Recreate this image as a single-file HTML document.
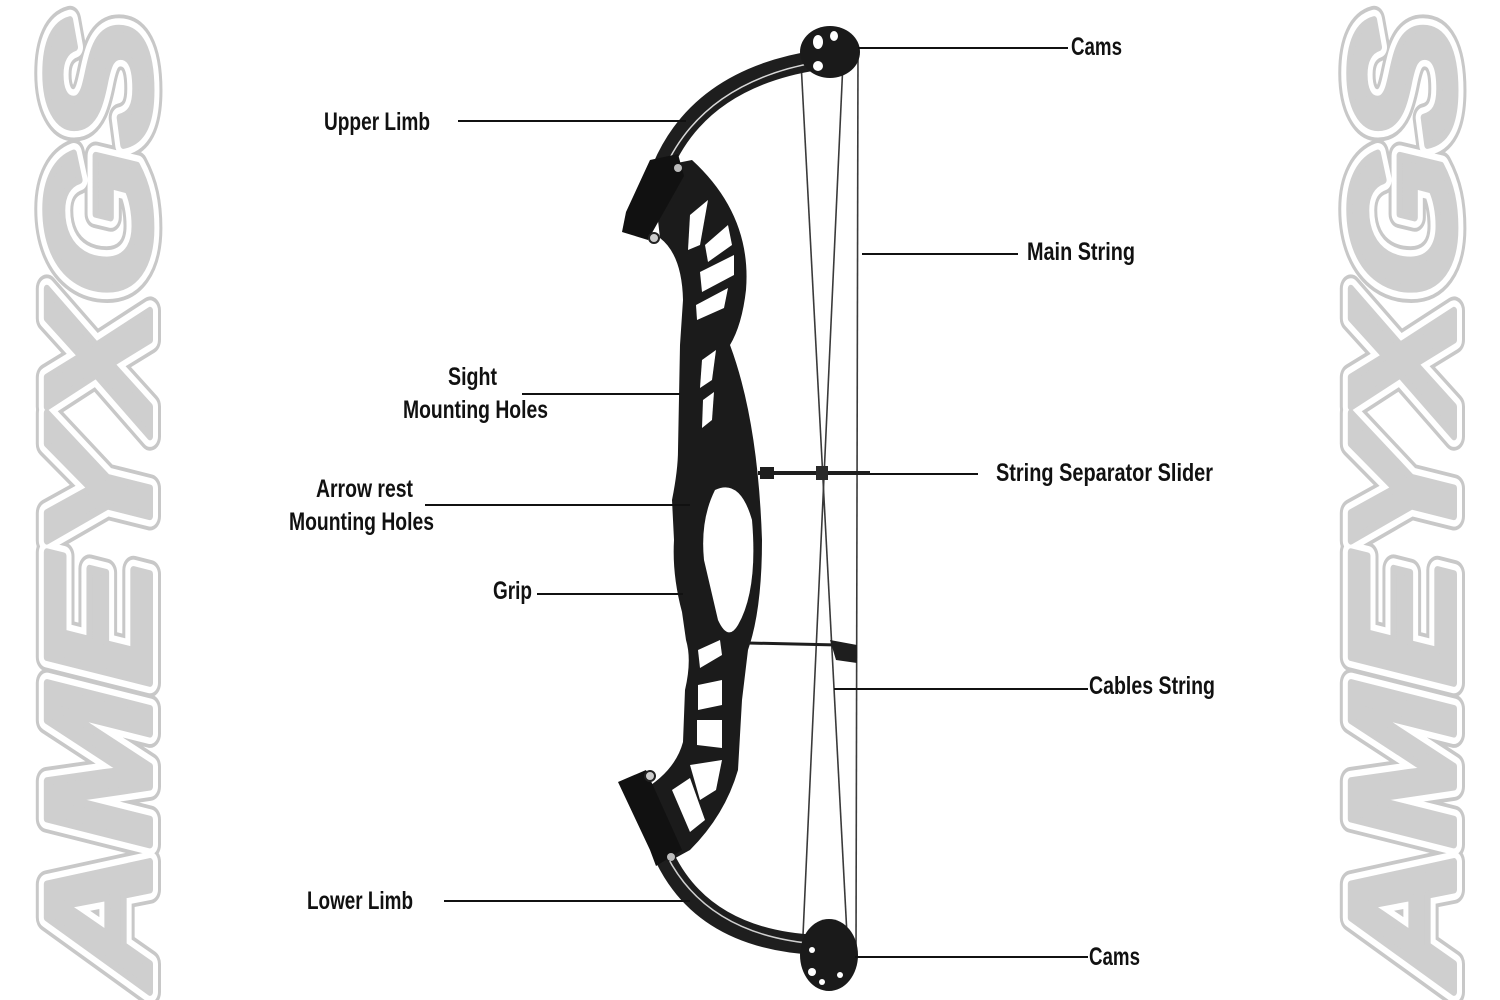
<!DOCTYPE html>
<html><head><meta charset="utf-8"><style>
html,body{margin:0;padding:0;background:#fff;width:1500px;height:1000px;overflow:hidden}
svg{display:block}
.lbl{font-family:"Liberation Sans Narrow","Liberation Sans",sans-serif;font-size:25px;fill:#111;font-weight:bold}
.wm{font-family:"Liberation Sans",sans-serif;font-weight:bold;font-style:italic;font-size:150px}
</style></head><body>
<svg width="1500" height="1000" viewBox="0 0 1500 1000" xmlns="http://www.w3.org/2000/svg">
<!-- watermarks -->
<g class="wm">
 <text transform="translate(150,988) rotate(-90)" textLength="970" lengthAdjust="spacingAndGlyphs" fill="none" stroke="#c8c8c8" stroke-width="22" stroke-linejoin="round">AMEYXGS</text>
 <text transform="translate(150,988) rotate(-90)" textLength="970" lengthAdjust="spacingAndGlyphs" fill="none" stroke="#fff" stroke-width="16" stroke-linejoin="round">AMEYXGS</text>
 <text transform="translate(150,988) rotate(-90)" textLength="970" lengthAdjust="spacingAndGlyphs" fill="#cfcfcf" stroke="#cfcfcf" stroke-width="6" stroke-linejoin="round">AMEYXGS</text>
 <text transform="translate(1454,988) rotate(-90)" textLength="970" lengthAdjust="spacingAndGlyphs" fill="none" stroke="#c8c8c8" stroke-width="22" stroke-linejoin="round">AMEYXGS</text>
 <text transform="translate(1454,988) rotate(-90)" textLength="970" lengthAdjust="spacingAndGlyphs" fill="none" stroke="#fff" stroke-width="16" stroke-linejoin="round">AMEYXGS</text>
 <text transform="translate(1454,988) rotate(-90)" textLength="970" lengthAdjust="spacingAndGlyphs" fill="#cfcfcf" stroke="#cfcfcf" stroke-width="6" stroke-linejoin="round">AMEYXGS</text>
</g>

<!-- strings -->
<g stroke="#3a3a3a" stroke-width="1.6" fill="none">
 <line x1="858" y1="48" x2="856" y2="955"/>
 <line x1="801" y1="62" x2="847" y2="935"/>
 <line x1="843" y1="62" x2="803" y2="935"/>
</g>

<!-- limbs -->
<g fill="none" stroke-linecap="round">
 <path d="M662,168 Q700,78 818,60" stroke="#1e1e1e" stroke-width="20"/>
 <path d="M664,170 Q703,82 818,62" stroke="#d8d8d8" stroke-width="1.5"/>
 <path d="M665,858 Q705,940 818,945" stroke="#1e1e1e" stroke-width="20"/>
 <path d="M667,856 Q708,936 818,944" stroke="#cfcfcf" stroke-width="1.5"/>
</g>

<!-- riser -->
<path fill="#1b1b1b" d="M652,168 L692,160 Q752,215 746,290 Q742,325 730,345 Q758,420 762,540 Q762,610 748,650 L742,700 L738,770 Q725,815 690,850 L668,862 L640,792 Q675,772 683,742 L685,690 Q692,660 686,640 L682,612 Q672,575 674,540 L672,500 Q678,470 678,450 L680,345 L683,300 Q682,255 660,238 Z"/>
<g fill="#fff">
 <path d="M715,490 Q740,478 752,520 Q758,590 738,625 Q728,642 718,620 L704,560 Q700,520 715,490 Z"/>
 <path d="M690,215 L708,200 L700,245 L688,250 Z"/>
 <path d="M705,245 L728,225 L732,245 L708,262 Z"/>
 <path d="M700,272 L734,255 L734,275 L702,292 Z"/>
 <path d="M696,305 L728,288 L724,308 L697,320 Z"/>
 <path d="M702,360 L716,350 L712,380 L700,388 Z"/>
 <path d="M703,400 L714,392 L712,420 L702,428 Z"/>
 <path d="M698,650 L720,640 L722,655 L700,668 Z"/>
 <path d="M698,685 L722,680 L722,705 L698,710 Z"/>
 <path d="M697,720 L722,720 L722,748 L697,745 Z"/>
 <path d="M690,765 L722,760 L716,790 L700,800 Z"/>
 <path d="M672,790 L690,778 L705,820 L690,832 Z"/>
</g>
<path fill="#111" d="M650,160 L678,154 L684,176 L648,240 L622,232 L626,212 Z"/>
<circle cx="654" cy="238" r="5" fill="#ccc" stroke="#222" stroke-width="2"/>
<circle cx="678" cy="168" r="4" fill="#bbb"/>
<path fill="#111" d="M618,782 L646,770 L682,850 L656,866 L650,850 Z"/>
<circle cx="650" cy="776" r="5" fill="#ccc" stroke="#222" stroke-width="2"/>
<circle cx="671" cy="857" r="4" fill="#bbb"/>

<!-- cams -->
<ellipse cx="830" cy="52" rx="30" ry="26" fill="#1a1a1a"/>
<g fill="#fff"><ellipse cx="818" cy="42" rx="5" ry="7"/><ellipse cx="834" cy="36" rx="4" ry="5"/><ellipse cx="818" cy="66" rx="5" ry="5"/></g>
<ellipse cx="829" cy="955" rx="29" ry="36" fill="#1a1a1a"/>
<g fill="#fff"><circle cx="812" cy="972" r="4"/><circle cx="822" cy="982" r="3"/><circle cx="840" cy="975" r="3"/><circle cx="812" cy="950" r="3"/></g>

<!-- slider and rod -->
<line x1="758" y1="473" x2="870" y2="473" stroke="#1e1e1e" stroke-width="4"/>
<rect x="760" y="467" width="14" height="12" fill="#1e1e1e"/>
<rect x="816" y="466" width="12" height="14" fill="#2a2a2a"/>
<line x1="748" y1="643" x2="838" y2="645" stroke="#1e1e1e" stroke-width="3"/>
<path d="M830,640 L857,645 L857,663 L836,660 Z" fill="#1e1e1e"/>

<!-- leader lines -->
<g stroke="#111" stroke-width="2">
 <line x1="858" y1="48" x2="1068" y2="48"/>
 <line x1="458" y1="121" x2="686" y2="121"/>
 <line x1="862" y1="254" x2="1018" y2="254"/>
 <line x1="522" y1="394" x2="680" y2="394"/>
 <line x1="870" y1="474" x2="978" y2="474"/>
 <line x1="425" y1="505" x2="690" y2="505"/>
 <line x1="537" y1="594" x2="683" y2="594"/>
 <line x1="834" y1="689" x2="1088" y2="689"/>
 <line x1="444" y1="901" x2="690" y2="901"/>
 <line x1="855" y1="957" x2="1088" y2="957"/>
</g>

<!-- labels -->
<g class="lbl">
 <text x="1071" y="55" textLength="51" lengthAdjust="spacingAndGlyphs">Cams</text>
 <text x="324" y="130" textLength="106" lengthAdjust="spacingAndGlyphs">Upper Limb</text>
 <text x="1027" y="260" textLength="108" lengthAdjust="spacingAndGlyphs">Main String</text>
 <text x="448" y="385" textLength="49" lengthAdjust="spacingAndGlyphs">Sight</text>
 <text x="403" y="418" textLength="145" lengthAdjust="spacingAndGlyphs">Mounting Holes</text>
 <text x="996" y="481" textLength="217" lengthAdjust="spacingAndGlyphs">String Separator Slider</text>
 <text x="316" y="497" textLength="97" lengthAdjust="spacingAndGlyphs">Arrow rest</text>
 <text x="289" y="530" textLength="145" lengthAdjust="spacingAndGlyphs">Mounting Holes</text>
 <text x="493" y="599" textLength="39" lengthAdjust="spacingAndGlyphs">Grip</text>
 <text x="1089" y="694" textLength="126" lengthAdjust="spacingAndGlyphs">Cables String</text>
 <text x="307" y="909" textLength="106" lengthAdjust="spacingAndGlyphs">Lower Limb</text>
 <text x="1089" y="965" textLength="51" lengthAdjust="spacingAndGlyphs">Cams</text>
</g>
</svg>
</body></html>
